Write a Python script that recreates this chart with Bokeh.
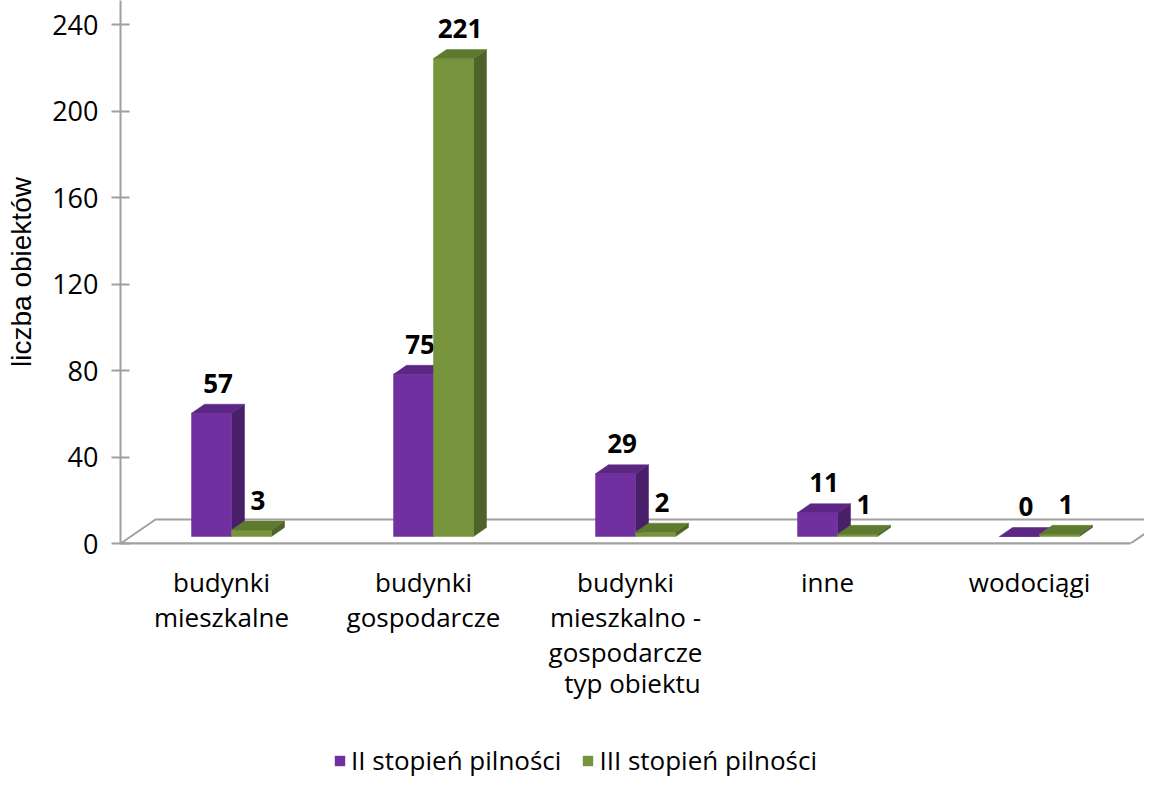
from bokeh.plotting import figure
from bokeh.layouts import column
from bokeh.models import (FixedTicker, LinearAxis, Range1d, ColumnDataSource,
                          Legend, LegendItem)
from bokeh.core.properties import value
from bokeh.embed import file_html
from bokeh.resources import INLINE

# ---------------- data ----------------
categories = ["budynki\nmieszkalne", "budynki\ngospodarcze",
              "budynki\nmieszkalno -\ngospodarcze", "inne", "wodociągi"]
series_names = ["II stopień pilności", "III stopień pilności"]
values_II = [57, 75, 29, 11, 0]
values_III = [3, 221, 2, 1, 1]
y_ticks = [0, 40, 80, 120, 160, 200, 240]

# ---------------- style ----------------
FONT = "Open Sans"
PURPLE = ("#7030A0", "#5C2784", "#4A1F6A")   # front, top, side
GREEN = ("#77933C", "#5E7A2E", "#4F6228")
GRID = "#A0A0A0"

# pseudo-3D projection offsets (data units)
PX_X = 202.0
PX_Y = 2.1625
FLOOR_DX, FLOOR_DY = 35 / PX_X, 24 / PX_Y
BAR_OX, BAR_OY = 10 / PX_X, 7 / PX_Y
BAR_DX, BAR_DY = 13 / PX_X, 9 / PX_Y
BAR_W = 40 / PX_X

W, H_MAIN, H_LEG = 1144, 715, 66
LEFT, BOTTOM = 120, 172

n = len(categories)
p = figure(width=W, height=H_MAIN, output_backend="svg", toolbar_location=None,
           x_range=Range1d(-0.5, -0.5 + (W - LEFT) / PX_X),
           y_range=Range1d(0, 240 + 24 / PX_Y),
           min_border_left=LEFT, min_border_right=0, min_border_top=0,
           min_border_bottom=BOTTOM, x_axis_location=None, y_axis_location=None)
p.outline_line_color = None
p.grid.visible = False
p.background_fill_color = "white"

# floor
fx = [-0.5, n - 0.5, n - 0.5 + FLOOR_DX, -0.5 + FLOOR_DX, -0.5]
fy = [0, 0, FLOOR_DY, FLOOR_DY, 0]
p.line(fx, fy, line_color=GRID, line_width=2)

# bars
def add_bars(vals, shift, cols):
    fxs, fys, txs, tys, sxs, sys_ = [], [], [], [], [], []
    lx, ly = [], []
    for i, v in enumerate(vals):
        x0 = i + shift + BAR_OX
        x1 = x0 + BAR_W
        b = BAR_OY
        t = b + v
        fxs.append([x0, x1, x1, x0]); fys.append([b, b, t, t])
        txs.append([x0, x1, x1 + BAR_DX, x0 + BAR_DX]); tys.append([t, t, t + BAR_DY, t + BAR_DY])
        sxs.append([x1, x1 + BAR_DX, x1 + BAR_DX, x1]); sys_.append([b, b + BAR_DY, t + BAR_DY, t])
        lx.append((x0 + x1) / 2 + BAR_DX / 2); ly.append(t + BAR_DY)
    p.patches(sxs, sys_, fill_color=cols[2], line_color=cols[2], line_width=0.5)
    p.patches(fxs, fys, fill_color=cols[0], line_color=cols[0], line_width=0.5)
    p.patches(txs, tys, fill_color=cols[1], line_color=cols[1], line_width=0.5)
    src = ColumnDataSource(dict(x=lx, y=ly, t=[str(v) for v in vals]))
    p.text("x", "y", text="t", source=src, text_font=value(FONT),
           text_font_style="bold", text_font_size="26px", text_color="black",
           text_align="center", text_baseline="middle", y_offset=-21)

add_bars(values_II, -BAR_W, PURPLE)
add_bars(values_III, 0, GREEN)

# y axis
yax = LinearAxis(ticker=FixedTicker(ticks=y_ticks), axis_label="liczba obiektów")
yax.axis_line_color = GRID
yax.axis_line_width = 2
yax.major_tick_line_color = GRID
yax.major_tick_line_width = 2
yax.major_tick_in = 9
yax.major_tick_out = 9
yax.minor_tick_line_color = None
yax.major_label_text_font = FONT
yax.major_label_text_font_size = "27px"
yax.major_label_text_color = "black"
yax.major_label_standoff = 13
yax.axis_label_text_font = "Liberation Sans"
yax.axis_label_text_font_size = "28px"
yax.axis_label_text_font_style = "normal"
yax.axis_label_text_color = "black"
yax.axis_label_standoff = 12
p.add_layout(yax, "left")

# x axis
xax = LinearAxis(ticker=FixedTicker(ticks=list(range(n))), axis_label="typ obiektu")
xax.bounds = (-0.5, n - 0.5)
xax.major_label_overrides = {i: c for i, c in enumerate(categories)}
xax.axis_line_color = GRID
xax.axis_line_width = 2
xax.major_tick_line_color = None
xax.minor_tick_line_color = None
xax.major_label_text_font = FONT
xax.major_label_text_font_size = "26px"
xax.major_label_text_color = "black"
xax.major_label_text_line_height = 0.98
xax.major_label_standoff = 14
xax.axis_label_text_font = FONT
xax.axis_label_text_font_size = "26px"
xax.axis_label_text_font_style = "normal"
xax.axis_label_text_color = "black"
xax.axis_label_standoff = -8
p.add_layout(xax, "below")

# legend (separate strip below the chart; its frame is aligned with the chart frame)
q = figure(width=W, height=H_LEG, output_backend="svg", toolbar_location=None,
           x_range=Range1d(0, 1), y_range=Range1d(0, 1),
           min_border=0, x_axis_location=None, y_axis_location=None)
q.outline_line_color = None
q.grid.visible = False
r1 = q.quad(left=[-10], right=[-9], bottom=[-10], top=[-9],
            fill_color=PURPLE[0], line_color=None)
r2 = q.quad(left=[-10], right=[-9], bottom=[-10], top=[-9],
            fill_color=GREEN[0], line_color=None)
leg = Legend(items=[LegendItem(label=series_names[0], renderers=[r1]),
                    LegendItem(label=series_names[1], renderers=[r2])],
             orientation="horizontal", location=(213, 3))
leg.label_text_font = FONT
leg.label_text_font_size = "26px"
leg.label_text_color = "black"
leg.glyph_width = 13
leg.glyph_height = 13
leg.label_standoff = 5
leg.spacing = 20
leg.padding = 0
leg.margin = 0
leg.border_line_color = None
leg.background_fill_alpha = 0
q.add_layout(leg, "center")

layout = column(p, q, spacing=0)
open("out.html", "w").write(file_html(layout, INLINE))
